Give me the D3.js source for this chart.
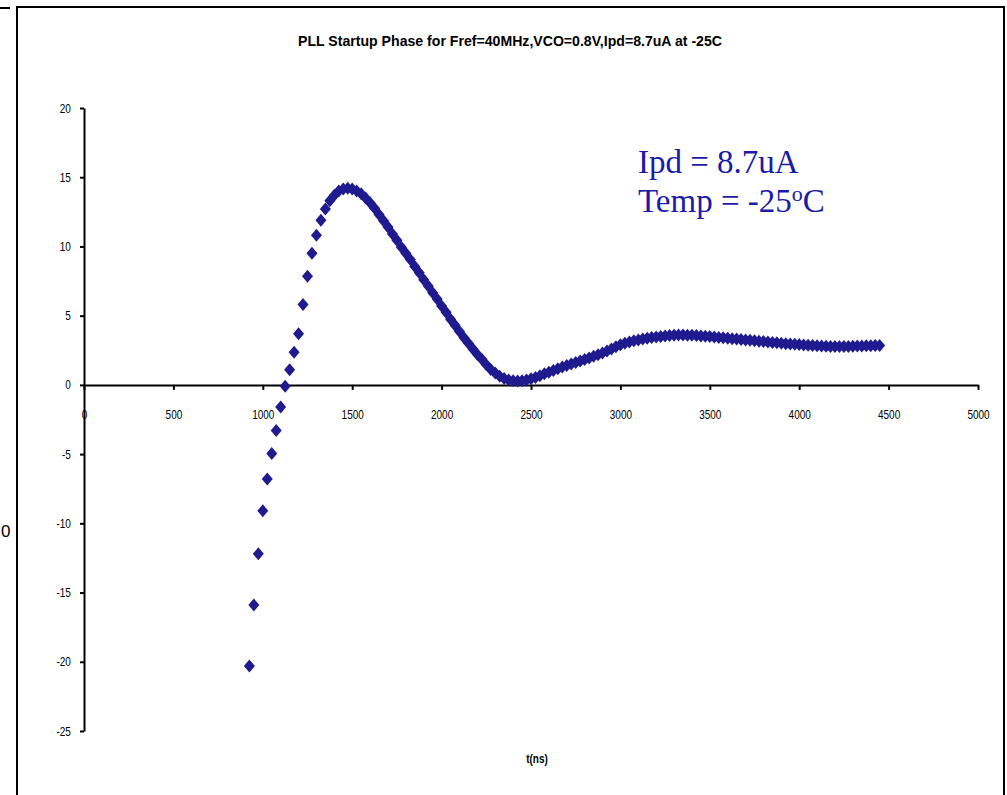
<!DOCTYPE html>
<html>
<head>
<meta charset="utf-8">
<script src="https://d3js.org/d3.v7.min.js"></script>
<style>
body { margin: 0; background: #fff; }
svg { font-family: "Liberation Sans", Arial, sans-serif; }
</style>
</head>
<body>
<div id="pll-phase"></div>
<script>
// sample times (ns), one point every 25 ns
var timeNs = [
     925,  950,  975, 1000, 1025, 1050, 1075, 1100, 1125, 1150,
    1175, 1200, 1225, 1250, 1275, 1300, 1325, 1350, 1375, 1400,
    1425, 1450, 1475, 1500, 1525, 1550, 1575, 1600, 1625, 1650,
    1675, 1700, 1725, 1750, 1775, 1800, 1825, 1850, 1875, 1900,
    1925, 1950, 1975, 2000, 2025, 2050, 2075, 2100, 2125, 2150,
    2175, 2200, 2225, 2250, 2275, 2300, 2325, 2350, 2375, 2400,
    2425, 2450, 2475, 2500, 2525, 2550, 2575, 2600, 2625, 2650,
    2675, 2700, 2725, 2750, 2775, 2800, 2825, 2850, 2875, 2900,
    2925, 2950, 2975, 3000, 3025, 3050, 3075, 3100, 3125, 3150,
    3175, 3200, 3225, 3250, 3275, 3300, 3325, 3350, 3375, 3400,
    3425, 3450, 3475, 3500, 3525, 3550, 3575, 3600, 3625, 3650,
    3675, 3700, 3725, 3750, 3775, 3800, 3825, 3850, 3875, 3900,
    3925, 3950, 3975, 4000, 4025, 4050, 4075, 4100, 4125, 4150,
    4175, 4200, 4225, 4250, 4275, 4300, 4325, 4350, 4375, 4400,
    4425, 4450
];

// phase
var phase = [
    -20.3, -15.9, -12.2, -9.1, -6.8, -4.95, -3.3, -1.6, -0.1, 1.1,
    2.35, 3.7, 5.8, 7.85, 9.5, 10.8, 11.9, 12.7, 13.3, 13.7,
    14.0, 14.15, 14.2, 14.15, 14.0, 13.8, 13.5, 13.15, 12.75, 12.3,
    11.85, 11.4, 10.9, 10.45, 9.95, 9.5, 9.05, 8.55, 8.1, 7.6,
    7.15, 6.65, 6.2, 5.7, 5.25, 4.75, 4.3, 3.85, 3.4, 3.0,
    2.6, 2.2, 1.85, 1.45, 1.12, 0.85, 0.62, 0.46, 0.36, 0.3,
    0.28, 0.3, 0.36, 0.44, 0.54, 0.66, 0.8, 0.92, 1.04, 1.17,
    1.29, 1.4, 1.51, 1.62, 1.73, 1.84, 1.95, 2.06, 2.18, 2.31,
    2.45, 2.6, 2.75, 2.9, 3.0, 3.1, 3.18, 3.25, 3.31, 3.37,
    3.42, 3.46, 3.5, 3.54, 3.56, 3.58, 3.6, 3.6, 3.59, 3.58,
    3.56, 3.54, 3.52, 3.49, 3.46, 3.43, 3.4, 3.37, 3.34, 3.31,
    3.28, 3.25, 3.22, 3.19, 3.16, 3.13, 3.1, 3.07, 3.04, 3.01,
    2.98, 2.95, 2.93, 2.91, 2.89, 2.87, 2.85, 2.83, 2.81, 2.79,
    2.78, 2.77, 2.77, 2.77, 2.78, 2.79, 2.8, 2.81, 2.82, 2.83,
    2.84, 2.85
];

var xTicks = [0, 500, 1000, 1500, 2000, 2500, 3000, 3500, 4000, 4500, 5000];
var yTicks = [20, 15, 10, 5, 0, -5, -10, -15, -20, -25];

var titleText = "PLL Startup Phase for Fref=40MHz,VCO=0.8V,Ipd=8.7uA at -25C";
var xLabel = "t(ns)";
var noteIpd = "Ipd = 8.7uA";
var noteTemp = ["Temp = -25", "o", "C"];

var initPhaseChart = {
    draw: (config) => {
        var domEle = config.element,
            data = config.data,
            margin = {top: 108, left: 84},
            width = 894,
            height = 623,
            markColor = "#1f1b8f",
            squeeze = "scale(0.8,1)",
            serif = "\"Liberation Serif\", \"Times New Roman\", serif",
            xScale = d3.scaleLinear().domain([0, 5000]).range([0, width]),
            yScale = d3.scaleLinear().domain([-25, 20]).range([height, 0]),
            svg = d3.select("#" + domEle).append("svg")
                .attr("width", 1007)
                .attr("height", 795);

        // frame of the chart sheet, plus a scrap of the neighbour at the left
        svg.append("rect")
            .attr("x", 17).attr("y", 7)
            .attr("width", 987).attr("height", 820)
            .attr("fill", "none")
            .attr("stroke", "#000")
            .attr("stroke-width", 2);
        svg.append("line")
            .attr("x1", 0).attr("x2", 10)
            .attr("y1", 8).attr("y2", 8)
            .attr("stroke", "#000").attr("stroke-width", 2);
        svg.append("text")
            .attr("x", 1).attr("y", 537)
            .style("font-size", "17px")
            .text("0");

        svg.append("text")
            .attr("x", 510).attr("y", 46)
            .attr("text-anchor", "middle")
            .attr("textLength", 424)
            .attr("lengthAdjust", "spacingAndGlyphs")
            .style("font-size", "15px")
            .style("font-weight", "bold")
            .text(titleText);

        var g = svg.append("g")
            .attr("transform", "translate(" + margin.left + "," + margin.top + ")");

        var xAxis = g.append("g")
            .attr("class", "axis axis--x")
            .attr("transform", "translate(0," + yScale(0) + ")")
            .call(d3.axisBottom(xScale).tickValues(xTicks).tickSize(5).tickSizeOuter(0).tickFormat(d => String(d)));

        var yAxis = g.append("g")
            .attr("class", "axis axis--y")
            .call(d3.axisLeft(yScale).tickValues(yTicks).tickSize(4).tickSizeOuter(0).tickFormat(d => String(d)));

        g.selectAll(".axis path, .axis line")
            .attr("stroke", "#000")
            .attr("stroke-width", 2);
        g.selectAll(".axis").attr("font-family", null).attr("font-size", null);
        g.selectAll(".axis text")
            .attr("fill", "#000")
            .style("font-size", "12.5px");
        xAxis.selectAll("text")
            .attr("y", 25)
            .attr("transform", squeeze);
        yAxis.selectAll("text")
            .attr("x", -16.5)
            .attr("transform", squeeze);

        var diamond = {
            draw: (ctx) => {
                ctx.moveTo(0, -6.5);
                ctx.lineTo(5.5, 0);
                ctx.lineTo(0, 6.5);
                ctx.lineTo(-5.5, 0);
                ctx.closePath();
            }
        };

        g.append("g")
            .attr("class", "series")
            .selectAll("path")
            .data(data)
            .enter().append("path")
            .attr("d", d3.symbol().type(diamond))
            .attr("transform", d => "translate(" + xScale(d.t) + "," + yScale(d.v) + ")")
            .attr("fill", markColor);

        svg.append("text")
            .attr("transform", "translate(537,763) " + squeeze)
            .attr("text-anchor", "middle")
            .style("font-size", "12.5px")
            .style("font-weight", "bold")
            .text(xLabel);

        var note = svg.append("g").attr("fill", "#1b1ba8");
        note.append("text")
            .attr("x", 638).attr("y", 173)
            .style("font-family", serif)
            .style("font-size", "33px")
            .text(noteIpd);
        var temp = note.append("text")
            .attr("x", 638).attr("y", 212)
            .style("font-family", serif)
            .style("font-size", "33px");
        temp.append("tspan").text(noteTemp[0]);
        temp.append("tspan").attr("dy", -11).style("font-size", "22px").text(noteTemp[1]);
        temp.append("tspan").attr("dy", 11).text(noteTemp[2]);
    }
};

var points = timeNs.map((t, i) => ({t: t, v: phase[i]}));

initPhaseChart.draw({
    data: points,
    element: "pll-phase"
});
</script>
</body>
</html>
